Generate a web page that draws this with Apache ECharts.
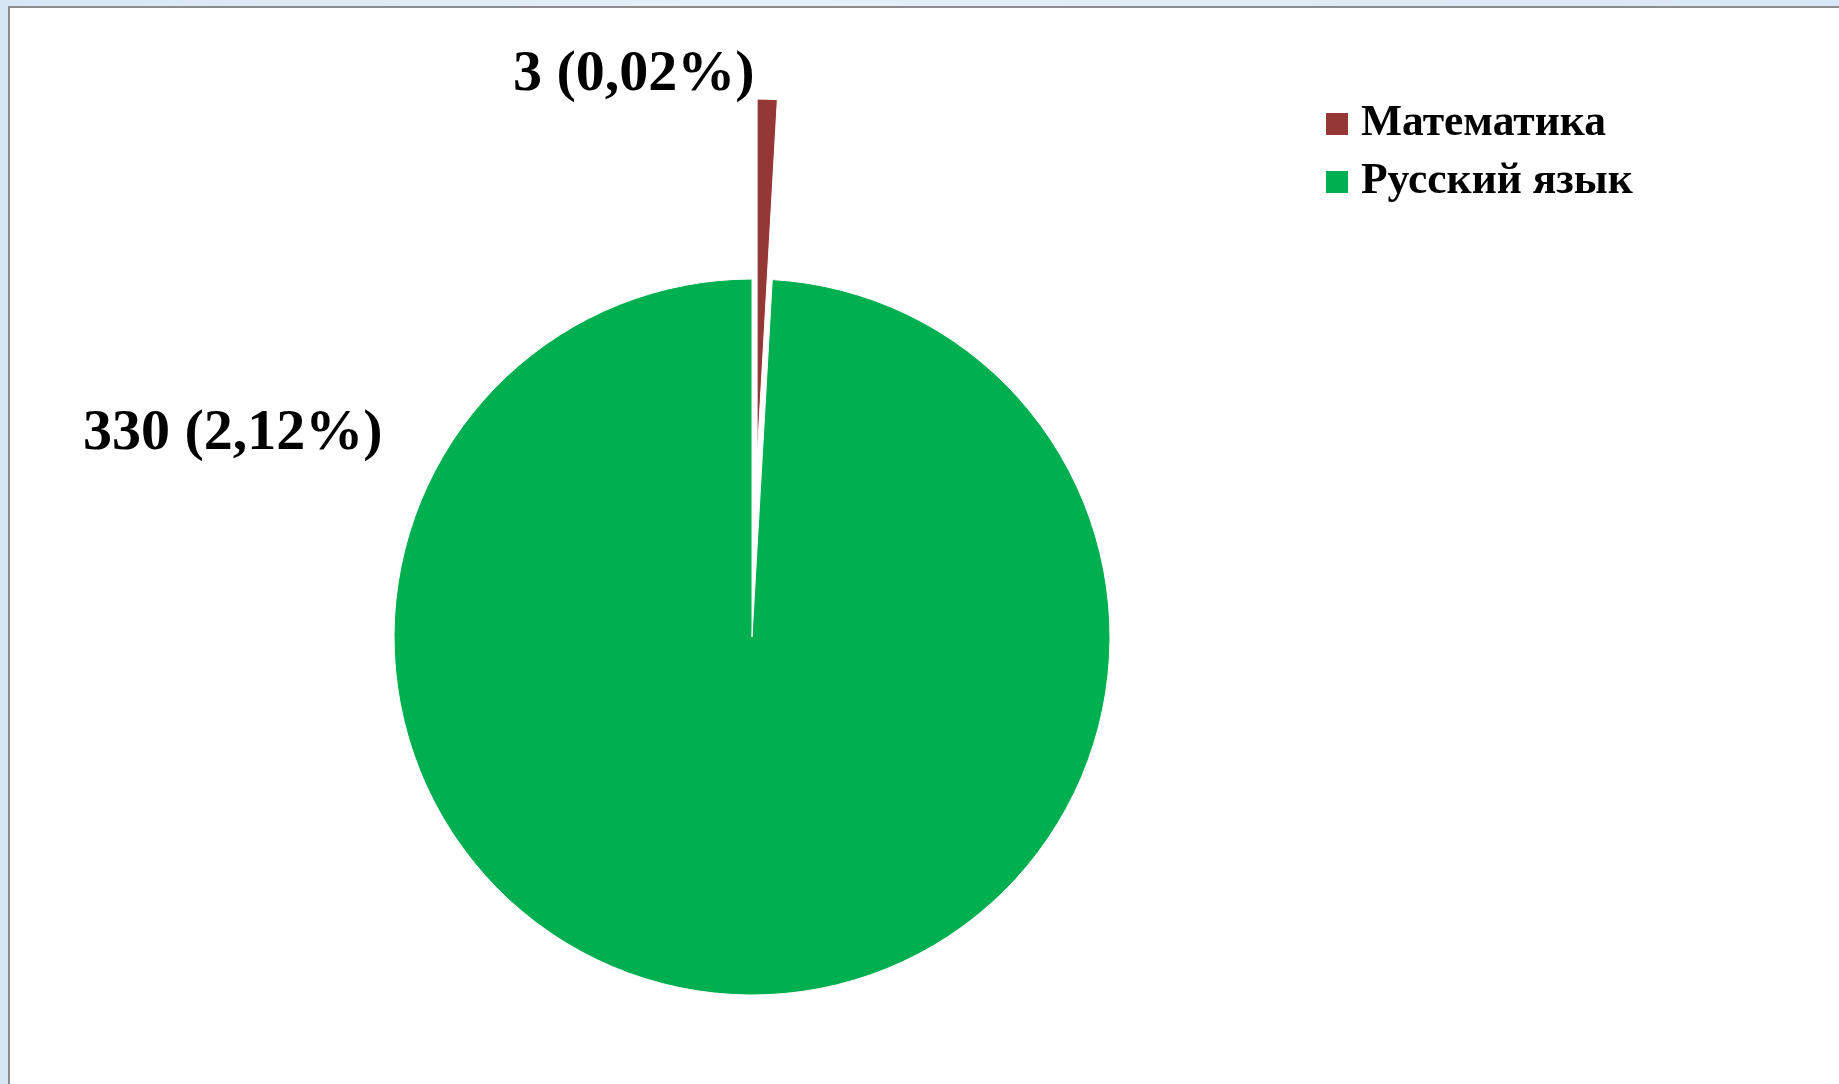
<!DOCTYPE html>
<html>
<head>
<meta charset="utf-8">
<script src="https://cdn.jsdelivr.net/npm/echarts@6/dist/echarts.min.js"></script>
<style>
  html, body { margin: 0; padding: 0; width: 1839px; height: 1084px; overflow: hidden;
    background: linear-gradient(90deg, #d6e6f4, #e6f0f9 40%, #d8e7f5); }
  #frame { position: absolute; left: 8px; top: 6px; width: 1850px; height: 1100px;
    background: #ffffff; border-left: 2px solid #8c8c8c; border-top: 2px solid #8c8c8c; }
  #chart { position: absolute; left: 0; top: 0; width: 1839px; height: 1084px; }
</style>
</head>
<body>
<div id="frame"></div>
<div id="chart"></div>
<script>
const categories = ['Математика', 'Русский язык'];
const values = [3, 330];
const percentLabels = ['0,02%', '2,12%'];
const colors = ['#953735', '#00B050'];

const chart = echarts.init(document.getElementById('chart'), null, { renderer: 'canvas' });

const data = categories.map((name, i) => ({
  name: name,
  value: values[i],
  selected: i === 0,
  itemStyle: { color: colors[i] }
}));

const labelFont = 'bold 58px "Liberation Serif"';
const labelAnchors = [
  { left: 513, top: 75 },
  { left: 83, top: 434 }
];

chart.setOption({
  animation: false,
  backgroundColor: 'transparent',
  legend: {
    orient: 'vertical',
    left: 1321,
    top: 97,
    itemWidth: 22,
    itemHeight: 22,
    itemGap: 14,
    icon: 'rect',
    selectedMode: false,
    data: categories,
    itemStyle: { borderWidth: 0 },
    textStyle: {
      fontFamily: 'Liberation Serif',
      fontWeight: 'bold',
      fontSize: 43.5,
      color: '#000',
      padding: [0, 0, 0, 8]
    }
  },
  graphic: categories.map((name, i) => ({
    type: 'text',
    x: labelAnchors[i].left,
    y: labelAnchors[i].top,
    silent: true,
    style: {
      text: values[i] + ' (' + percentLabels[i] + ')',
      font: labelFont,
      fill: '#000',
      align: 'left',
      verticalAlign: 'middle'
    }
  })),
  series: [{
    type: 'pie',
    center: [752, 637],
    radius: [0, 358],
    startAngle: 90,
    clockwise: true,
    selectedMode: 'single',
    selectedOffset: 180,
    avoidLabelOverlap: false,
    itemStyle: { borderColor: '#ffffff', borderWidth: 1 },
    emphasis: { disabled: true },
    label: { show: false },
    labelLine: { show: false },
    data: data
  }]
});
</script>
</body>
</html>
